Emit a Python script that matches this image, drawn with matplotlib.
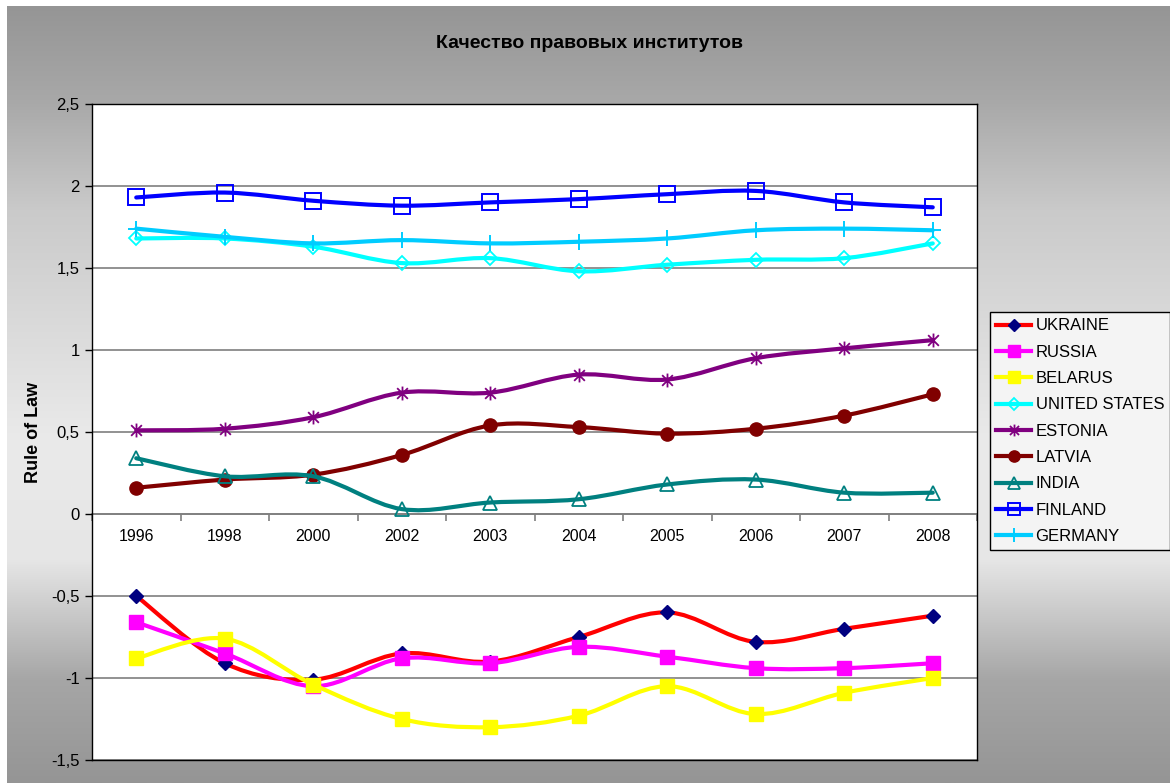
import numpy as np
import matplotlib
matplotlib.use("Agg")
import matplotlib.pyplot as plt
from matplotlib.path import Path
from matplotlib.patches import PathPatch
from matplotlib.lines import Line2D
from matplotlib.ticker import FixedLocator, FixedFormatter, NullFormatter

plt.rcParams['font.family'] = ['Liberation Sans', 'DejaVu Sans']

years = ['1996', '1998', '2000', '2002', '2003', '2004', '2005', '2006', '2007', '2008']
ytick_values = [2.5, 2.0, 1.5, 1.0, 0.5, 0.0, -0.5, -1.0, -1.5]
ytick_labels = ['2,5', '2', '1,5', '1', '0,5', '0', '-0,5', '-1', '-1,5']

ukraine = [-0.50, -0.91, -1.01, -0.85, -0.90, -0.75, -0.60, -0.78, -0.70, -0.62]
russia = [-0.66, -0.85, -1.05, -0.88, -0.91, -0.81, -0.87, -0.94, -0.94, -0.91]
belarus = [-0.88, -0.76, -1.04, -1.25, -1.30, -1.23, -1.05, -1.22, -1.09, -1.00]
united_states = [1.68, 1.68, 1.63, 1.53, 1.56, 1.48, 1.52, 1.55, 1.56, 1.65]
estonia = [0.51, 0.52, 0.59, 0.74, 0.74, 0.85, 0.82, 0.95, 1.01, 1.06]
latvia = [0.16, 0.21, 0.24, 0.36, 0.54, 0.53, 0.49, 0.52, 0.60, 0.73]
india = [0.34, 0.23, 0.23, 0.03, 0.07, 0.09, 0.18, 0.21, 0.13, 0.13]
finland = [1.93, 1.96, 1.91, 1.88, 1.90, 1.92, 1.95, 1.97, 1.90, 1.87]
germany = [1.74, 1.69, 1.65, 1.67, 1.65, 1.66, 1.68, 1.73, 1.74, 1.73]

names = ['UKRAINE', 'RUSSIA', 'BELARUS', 'UNITED STATES', 'ESTONIA', 'LATVIA', 'INDIA', 'FINLAND', 'GERMANY']
series = [ukraine, russia, belarus, united_states, estonia, latvia, india, finland, germany]

star = Path([(-1, -1), (1, 1), (-1, 1), (1, -1), (0, -1.3), (0, 1.3)],
            [Path.MOVETO, Path.LINETO, Path.MOVETO, Path.LINETO, Path.MOVETO, Path.LINETO])

styles = [
    dict(color='#ff0000', marker='D', ms=6.8, mfc='#000080', mec='#000080', mew=1),
    dict(color='#ff00ff', marker='s', ms=10, mfc='#ff00ff', mec='#ff00ff', mew=1),
    dict(color='#ffff00', marker='s', ms=10, mfc='#ffff00', mec='#ffff00', mew=1),
    dict(color='#00ffff', marker='D', ms=7, mfc='none', mec='#00ffff', mew=1.3),
    dict(color='#800080', marker=star, ms=10, mfc='none', mec='#800080', mew=1.3),
    dict(color='#800000', marker='o', ms=9.5, mfc='#800000', mec='#800000', mew=1),
    dict(color='#008080', marker='^', ms=10, mfc='none', mec='#008080', mew=1.3),
    dict(color='#0000ff', marker='s', ms=11, mfc='none', mec='#0000ff', mew=1.4),
    dict(color='#00ccff', marker='+', ms=12, mfc='none', mec='#00ccff', mew=1.4),
]

W, H = 1170, 783
fig = plt.figure(figsize=(W / 100, H / 100), dpi=100)
fig.patch.set_facecolor('white')

# gradient background
bg = fig.add_axes([7 / W, 0, 1 - 7 / W, 1 - 6 / H])
bg.set_axis_off()
rows = np.arange(6, 784)
stops_y = [6, 100, 210, 440, 560, 680, 783]
stops_v = [0x95, 0xa8, 0xca, 0xea, 0xe6, 0xa6, 0x95]
g = np.interp(rows, stops_y, stops_v) / 255.0
img = np.repeat(g[:, None], 2, axis=1)
bg.imshow(np.dstack([img, img, img]), aspect='auto', extent=[0, 1, 0, 1], interpolation='bilinear')
bg.set_zorder(-10)

left, right, top, bottom = 92, 977, 104, 760
ax = fig.add_axes([left / W, 1 - bottom / H, (right - left) / W, (bottom - top) / H])
ax.set_facecolor('white')
ax.set_xlim(0, 10)
ax.set_ylim(-1.5, 2.5)
for s in ax.spines.values():
    s.set_color('black')
    s.set_linewidth(1.0)
ax.set_yticks(ytick_values)
ax.set_yticklabels(ytick_labels)
ax.tick_params(axis='y', direction='out', length=5, width=1, pad=4, labelsize=12, colors='black')
ax.set_xticks([])
ax.yaxis.grid(True, color='#7f7f7f', linewidth=1.2)
ax.set_axisbelow(True)

x = np.arange(len(years)) + 0.5


def smooth_path(xs, ys):
    P = np.column_stack([xs, ys]).astype(float)
    n = len(P)
    verts = [P[0]]
    codes = [Path.MOVETO]
    for i in range(n - 1):
        p0 = P[i - 1] if i > 0 else P[i]
        p1 = P[i]
        p2 = P[i + 1]
        p3 = P[i + 2] if i + 2 < n else P[i + 1]
        c1 = p1 + (p2 - p0) / 6.0
        c2 = p2 - (p3 - p1) / 6.0
        verts += [c1, c2, p2]
        codes += [Path.CURVE4] * 3
    return Path(verts, codes)


handles = []
for k, (name, vals, st) in enumerate(zip(names, series, styles)):
    z = 3 + k
    patch = PathPatch(smooth_path(x, vals), fill=False, edgecolor=st['color'], lw=3.0,
                      capstyle='round', joinstyle='round', zorder=z)
    ax.add_patch(patch)
    ax.plot(x, vals, linestyle='none', marker=st['marker'], ms=st['ms'], mfc=st['mfc'],
            mec=st['mec'], mew=st['mew'], zorder=z + 0.5)
    handles.append(Line2D([], [], color=st['color'], lw=3.0, marker=st['marker'], ms=st['ms'] * 0.85,
                          mfc=st['mfc'], mec=st['mec'], mew=st['mew'], label=name))

# category axis crossing at zero
sec = ax.secondary_xaxis(1.5 / 4.0)
for s in sec.spines.values():
    s.set_color('#7f7f7f')
    s.set_linewidth(1.2)
sec.xaxis.set_major_locator(FixedLocator(np.arange(0, 11)))
sec.xaxis.set_major_formatter(NullFormatter())
sec.xaxis.set_minor_locator(FixedLocator(x))
sec.xaxis.set_minor_formatter(FixedFormatter(years))
sec.tick_params(which='major', direction='out', length=5, width=1.2, color='#7f7f7f')
sec.tick_params(which='minor', length=0, pad=11, labelsize=11.5, labelcolor='black')

fig.text(590 / W, 1 - 43 / H, 'Качество правовых институтов', ha='center', va='center',
         fontsize=14, fontweight='bold')
fig.text(33 / W, 1 - 432 / H, 'Rule of Law', ha='center', va='center', rotation=90,
         fontsize=13, fontweight='bold')

leg = fig.legend(handles=handles, loc='upper left', bbox_to_anchor=(990 / W, 1 - 312 / H),
                 bbox_transform=fig.transFigure, borderaxespad=0, fontsize=12,
                 handlelength=2.1, handletextpad=0.25, labelspacing=0.68, borderpad=0.38,
                 fancybox=False, shadow=False, framealpha=1)
leg.get_frame().set_edgecolor('black')
leg.get_frame().set_facecolor('#f4f4f4')
leg.get_frame().set_linewidth(1.0)

fig.savefig('out.png', dpi=100)
